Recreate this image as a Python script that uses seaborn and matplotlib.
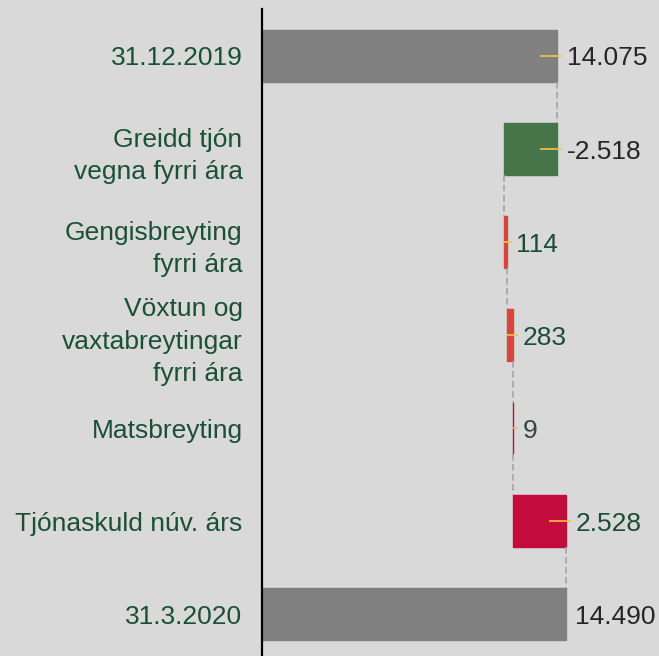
import matplotlib
matplotlib.use("Agg")
import matplotlib.pyplot as plt
import seaborn as sns
import numpy as np
import pandas as pd

# chart data
categories = ["31.12.2019", "Greidd tjón\nvegna fyrri ára", "Gengisbreyting\nfyrri ára",
              "Vöxtun og\nvaxtabreytingar\nfyrri ára", "Matsbreyting",
              "Tjónaskuld núv. árs", "31.3.2020"]
values = [14075, -2518, 114, 283, 9, 2528, 14490]
is_total = [True, False, False, False, False, False, True]
bar_colors = ["#808080", "#47754a", "#d6453f", "#d6453f", "#c40c3c", "#c40c3c", "#808080"]
label_colors = ["#262626", "#262626", "#1b4d38", "#1b4d38", "#34493a", "#1b4d38", "#262626"]

BG = "#d9d9d9"
TXT = "#1a5038"

# waterfall geometry: left edge and signed width for each bar
starts, running = [], 0
for v, tot in zip(values, is_total):
    if tot:
        starts.append(0)
        running = v
    else:
        starts.append(running)
        running += v
df = pd.DataFrame({"cat": categories, "width": values, "left": starts})
ends = [s + w for s, w in zip(starts, values)]

sns.set_theme(style="white")
plt.rcParams["font.family"] = ["Liberation Sans", "DejaVu Sans"]

fig = plt.figure(figsize=(6.59, 6.56), dpi=100, facecolor=BG)
ax = fig.add_axes([262 / 659, 0, 1 - 262 / 659, 1 - 9 / 656])
ax.set_facecolor(BG)

sns.barplot(data=df, x="width", y="cat", left=df["left"], color="#808080",
            width=0.56, errorbar=None, orient="h", ax=ax)
for patch, c in zip(ax.patches, bar_colors):
    patch.set_facecolor(c)
    patch.set_edgecolor(c)

# dashed connectors between bars
for i in range(len(values) - 1):
    ax.vlines(ends[i], i + 0.28, i + 1 - 0.28, colors="#a6a6a6",
              linestyles=(0, (4, 2)), linewidth=1.2)

# small golden markers and value labels
for i, (s, e, v) in enumerate(zip(starts, ends, values)):
    hi, lo = max(s, e), min(s, e)
    if not is_total[i] or i == 0:
        ax.hlines(i, max(lo, hi - 810), hi + 240, colors="#f2c14e", linewidth=1.2)
    txt = f"{v:,}".replace(",", ".")
    ax.annotate(txt, (hi, i), xytext=(7, 0), textcoords="offset points",
                va="center_baseline", ha="left", fontsize=19, color=label_colors[i])

ax.set_xlim(0, 18940)
ax.set_ylim(6.45, -0.505)
ax.set_xlabel("")
ax.set_ylabel("")
ax.set_xticks([])
ax.tick_params(axis="y", length=0, pad=14, labelsize=19, labelcolor=TXT)
for lab in ax.get_yticklabels():
    lab.set_linespacing(1.45)
for side in ["top", "right", "bottom"]:
    ax.spines[side].set_visible(False)
ax.spines["left"].set_color("black")
ax.spines["left"].set_linewidth(1.6)

fig.savefig("out.png", dpi=100, facecolor=BG)
